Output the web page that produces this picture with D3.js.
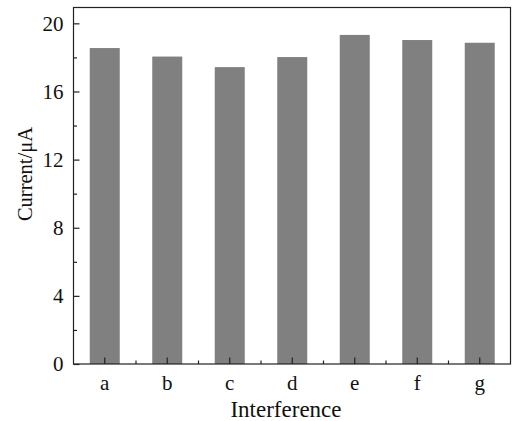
<!DOCTYPE html>
<html><head><meta charset="utf-8">
<script src="https://cdn.jsdelivr.net/npm/d3@7"></script>
<style>
html,body{margin:0;padding:0;background:#fff;}
</style></head>
<body>
<svg id="chart" width="512" height="421"></svg>
<script>
const categories = ["a","b","c","d","e","f","g"];
const currentValues = [18.55, 18.05, 17.43, 18.02, 19.32, 19.02, 18.86];
const yTicks = [0,4,8,12,16,20];
const yMinorTicks = [2,6,10,14,18];
const xTitle = "Interference";
const yTitle = "Current/\u03bcA";

const FONT = "Liberation Serif";
const svg = d3.select("#chart");
const L = 73.5, R = 510.5, T = 7.5, B = 364;

const x = d3.scaleBand().domain(categories).range([L, R + 0.5]).paddingInner(0.52).paddingOuter(0.26);
const y = d3.scaleLinear().domain([0, 20.93]).range([B, T]);

svg.append("g").selectAll("rect").data(categories).join("rect")
  .attr("x", d => x(d))
  .attr("width", x.bandwidth())
  .attr("y", (d,i) => y(currentValues[i]))
  .attr("height", (d,i) => B - y(currentValues[i]))
  .attr("fill", "#808080");

const axisColor = "#222";
svg.append("rect").attr("x", L).attr("y", T).attr("width", R - L).attr("height", B - T)
  .attr("fill", "none").attr("stroke", axisColor).attr("stroke-width", 1.2);

const yAxis = d3.axisLeft(y).tickValues(yTicks).tickSize(-6).tickPadding(10).tickFormat(d3.format("d"));
const gy = svg.append("g").attr("transform", `translate(${L},0)`).call(yAxis);
gy.attr("font-family", FONT).attr("font-size", 21);
gy.select(".domain").remove();
gy.selectAll(".tick line").attr("stroke", axisColor).attr("stroke-width", 1.2);
gy.selectAll(".tick text").attr("fill", "#111").attr("font-family", FONT);
const yMinor = d3.axisLeft(y).tickValues(yMinorTicks).tickSize(-3.5).tickFormat("");
const gym = svg.append("g").attr("transform", `translate(${L},0)`).call(yMinor);
gym.select(".domain").remove();
gym.selectAll(".tick line").attr("stroke", axisColor).attr("stroke-width", 1.2);

const xAxis = d3.axisBottom(x).tickSize(-6.5).tickPadding(11);
const gx = svg.append("g").attr("transform", `translate(0,${B})`).call(xAxis);
gx.attr("font-family", FONT).attr("font-size", 21);
gx.select(".domain").remove();
gx.selectAll(".tick line").attr("stroke", axisColor).attr("stroke-width", 1.2);
gx.selectAll(".tick text").attr("fill", "#111").attr("font-family", FONT);
const step = x.step();
const boundaries = categories.slice(1).map(c => x(c) + x.bandwidth()/2 - step/2);
svg.append("g").selectAll("line").data(boundaries).join("line")
  .attr("x1", d => d).attr("x2", d => d).attr("y1", B).attr("y2", B - 3.5)
  .attr("stroke", axisColor).attr("stroke-width", 1.2);

svg.append("text").attr("x", 286).attr("y", 417).attr("text-anchor", "middle")
  .attr("font-family", FONT).attr("font-size", 23).attr("fill", "#111").text(xTitle);
svg.append("text").attr("transform", `translate(31.5,174) rotate(-90)`).attr("text-anchor", "middle")
  .attr("font-family", FONT).attr("font-size", 20.5).attr("fill", "#111").text(yTitle);
</script>
</body></html>
